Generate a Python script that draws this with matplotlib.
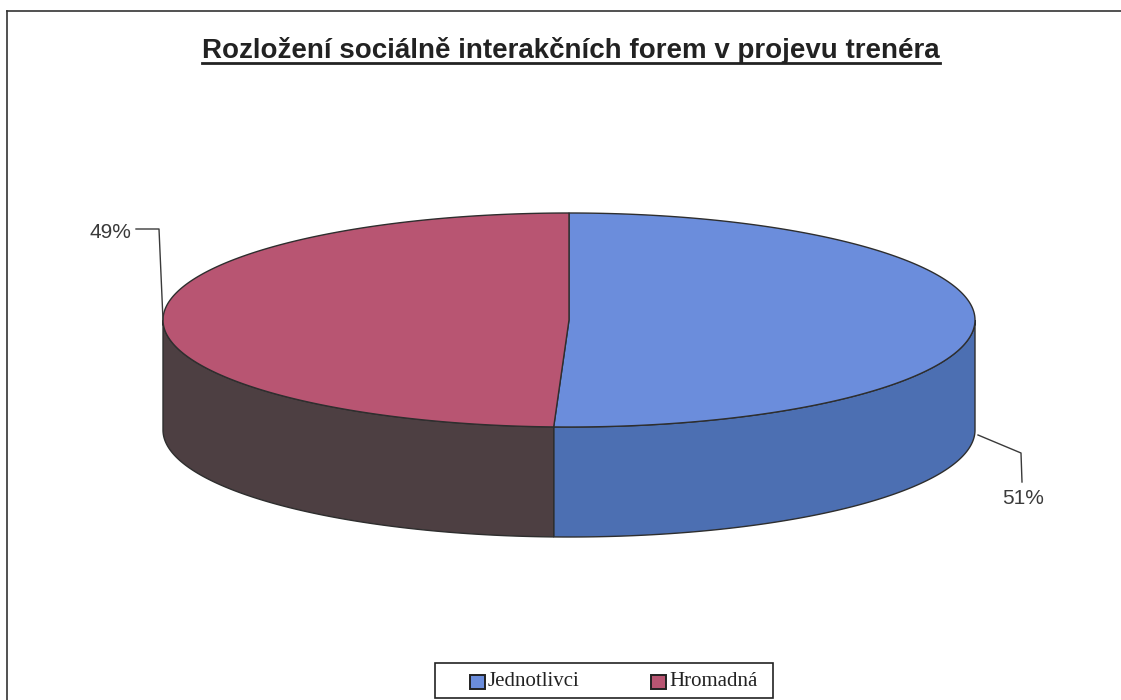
import numpy as np
import matplotlib
matplotlib.use("Agg")
import matplotlib.pyplot as plt
from matplotlib.patches import Polygon, Rectangle

categories = ["Jednotlivci", "Hromadná"]
values = [50.6, 49.4]
title = "Rozložení sociálně interakčních forem v projevu trenéra"

top_colors = ["#6b8ddc", "#b85572"]
side_colors = ["#4c6fb2", "#4d3f42"]
edge = "#2e2e2e"

# pie geometry in pixels
cx, cy, a, b, depth = 569, 320, 406, 107, 110

fig = plt.figure(figsize=(11.21, 7.0), dpi=100)
ax = fig.add_axes([0, 0, 1, 1])
ax.set_xlim(0, 1121)
ax.set_ylim(700, 0)
ax.axis("off")


def pt(t, dy=0):
    t = np.radians(t)
    return cx + a * np.cos(t), cy - b * np.sin(t) + dy


# slice angles, clockwise from 12 o'clock
fracs = np.array(values) / np.sum(values)
starts = 90 - 360 * np.concatenate([[0], np.cumsum(fracs)[:-1]])
ends = starts - 360 * fracs

# side faces (only the front half, 180..360 is visible)
for s, e, col in zip(starts, ends, side_colors):
    for off in (-360, 0, 360):
        lo = max(e + off, 180)
        hi = min(s + off, 360)
        if hi <= lo:
            continue
        ts = np.linspace(lo, hi, 200)
        top = [pt(t) for t in ts]
        bot = [pt(t, depth) for t in ts[::-1]]
        ax.add_patch(Polygon(top + bot, closed=True, fc=col, ec=edge, lw=1.0, zorder=2))

# top faces
for s, e, col in zip(starts, ends, top_colors):
    ts = np.linspace(s, e, 300)
    poly = [(cx, cy)] + [pt(t) for t in ts]
    ax.add_patch(Polygon(poly, closed=True, fc=col, ec=edge, lw=1.0, zorder=3))

# percentage labels with leader lines
lab_col = "#3a3a3a"
ax.plot([136, 159, 163], [229, 229, 320], color=lab_col, lw=1.0, zorder=4)
ax.text(131, 232, f"{values[1]:.0f}%", ha="right", va="center", fontsize=15,
        family="Liberation Sans", color=lab_col)
ax.plot([978, 1021, 1022], [435, 453, 482], color=lab_col, lw=1.0, zorder=4)
ax.text(1023, 498, f"{values[0]:.0f}%", ha="center", va="center", fontsize=15,
        family="Liberation Sans", color=lab_col)

# title with underline
tt = ax.text(571, 58, title, ha="center", va="baseline", fontsize=20,
             fontweight="bold", family="Liberation Sans", color="#222222")
fig.canvas.draw()
bb = tt.get_window_extent().transformed(ax.transData.inverted())
ax.plot([bb.x0, bb.x1], [62.5, 62.5], color="#222222", lw=2.0)

# chart frame (top and left edges)
ax.plot([7, 1121], [11, 11], color="#333333", lw=1.2)
ax.plot([7, 7], [11, 700], color="#333333", lw=1.2)

# legend
ax.add_patch(Rectangle((435, 663), 338, 35, fc="white", ec="#222222", lw=1.2))
for i, (name, col) in enumerate(zip(categories, top_colors)):
    x0 = 470 + i * 181
    ax.add_patch(Rectangle((x0, 675), 15, 14, fc=col, ec="#222222", lw=1.4))
    ax.text(x0 + 18, 682, name, ha="left", va="center", fontsize=15,
            family="Liberation Serif", color="#222222")

fig.savefig("out.png", dpi=100)
